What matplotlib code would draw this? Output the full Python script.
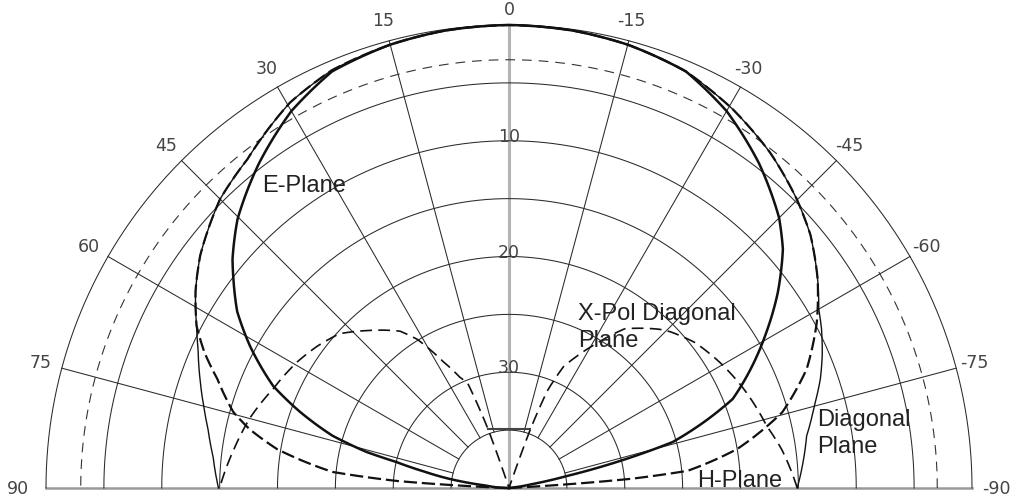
import numpy as np
import matplotlib
matplotlib.use("Agg")
import matplotlib.pyplot as plt
from matplotlib.transforms import offset_copy

plt.rcParams["lines.scale_dashes"] = False

# angles in degrees (positive = left of boresight), levels in dB below peak (40 = centre)
E_ANG = [-90, -84, -80.5, -78.3, -76, -74.3, -71, -68.3, -63, -58.8, -54, -48.9, -45, -37.6, -30, -23, -15, -8,
         0, 8, 15, 23, 30, 37.6, 45.3, 50.4, 53, 57, 61.3, 66.6, 70, 73.5, 75.8, 77, 79, 81.3, 84, 90]
E_DB = [40, 40, 38, 34.9, 29.4, 25.3, 21.9, 19.2, 16.3, 14.0, 11.3, 8.6, 7.0, 4.6, 2.4, 0.9, 0.35, 0.1,
        0, 0.1, 0.35, 0.9, 2.4, 4.6, 7.0, 9.0, 10.2, 12.0, 14.5, 17.8, 20.8, 24.1, 27.3, 30, 32.5, 34.8, 38, 40]

H_ANG = [-90, -87, -86.5, -85.7, -84.5, -80.3, -74.5, -68.2, -61.7, -55.9, -50, -45, -38, -30.6, -23, -15, -8,
         0, 8, 15, 23, 29.6, 38.5, 45, 53, 57.8, 62.6, 66, 69.5, 74.6, 77.2, 80.5, 84.8, 86.4, 87.2, 88, 90]
H_DB = [40, 40, 36, 29.5, 24.5, 20, 15.5, 12.3, 9.8, 7.8, 6.0, 4.8, 3.3, 2.0, 0.9, 0.35, 0.1,
        0, 0.1, 0.35, 0.8, 1.7, 3.7, 4.7, 6.6, 8.0, 9.6, 11.2, 13.1, 15.3, 17, 19.7, 24.7, 30.3, 36, 40, 40]

D_ANG = [-90, -85, -80.1, -75, -70.7, -67, -63, -60, -55.9, -50, -45, -38, -30.6, -23, -15, -8,
         0, 8, 15, 23, 29.6, 38.5, 45, 53, 57.8, 62.6, 66, 70.6, 75, 78.9, 84, 90]
D_DB = [15.1, 14.5, 13.9, 12.7, 11.5, 10.6, 9.7, 9.1, 7.8, 6.0, 4.8, 3.3, 2.0, 0.9, 0.35, 0.1,
        0, 0.1, 0.35, 0.8, 1.7, 3.7, 4.7, 6.6, 8.0, 9.6, 10.6, 11.7, 12.7, 13.5, 14.3, 14.9]

X_ANG = [-90, -82, -76.5, -67, -59.2, -52, -45.9, -43.5, -36, -31, -27, -24.2, -21.5, -20, -19,
         0, 18.5, 19.6, 21.5, 24, 27.5, 31.7, 34.8, 42, 47.7, 53.5, 59.3, 67.2, 75, 82, 90]
X_DB = [15.1, 16.2, 17.1, 18.0, 18.8, 19.6, 20.6, 21.1, 23.0, 25.5, 27.3, 28.5, 31, 34.6, 40,
        40, 40, 34.6, 30.3, 29.5, 27.7, 24.9, 23.5, 21.7, 20.2, 19.4, 18.7, 17.9, 16.8, 16.0, 15.0]

NULL_ANG = [19.5, -19.5]
NULL_DB = [34.6, 34.6]

REF_DB = 3  # half-power circle

RING_DB = [0, 5, 10, 15, 20, 25, 30, 35]
SPOKE_ANG = [-75, -60, -45, -30, -15, 15, 30, 45, 60, 75]
ANGLE_TICKS = [90, 75, 60, 45, 30, 15, 0, -15, -30, -45, -60, -75, -90]
RADIAL_TICKS = [10, 20, 30]

W, H = 1018, 502
CX, CY, R = 509, 489, 463   # pattern centre and outer radius, pixels from top-left

fig = plt.figure(figsize=(W / 100, H / 100), dpi=100)
# full polar axes; only its upper half lands inside the figure
ax = fig.add_axes([(CX - R) / W, (H - CY - R) / H, 2 * R / W, 2 * R / H], projection="polar")
ax.set_theta_zero_location("N")
ax.set_theta_direction(1)
ax.set_rlim(40, 0)
ax.axis("off")

rad = np.deg2rad
grid_c = "#2a2a2a"
ink = "#111111"

# grid rings and spokes
ring_t = np.linspace(-90, 90, 721)
for lvl in RING_DB:
    ax.plot(rad(ring_t), np.full_like(ring_t, lvl), color=grid_c, lw=0.75, clip_on=False, zorder=1)
for a in SPOKE_ANG:
    ax.plot(rad([a, a]), [RING_DB[-1], RING_DB[0]], color=grid_c, lw=0.75, clip_on=False, zorder=1)

# boresight and horizon axes
ax.plot(rad([0, 0]), [40, 0], color="#b4b4b4", lw=2.2, clip_on=False, zorder=0.5)
ax.plot(rad([90, -90]), [0, 0], color="#9a9a9a", lw=1.8, clip_on=False, zorder=0.5)

# -3 dB circle
ax.plot(rad(ring_t), np.full_like(ring_t, REF_DB), color="#333333", lw=0.8,
        ls=(0, (7, 5)), clip_on=False, zorder=2)

# patterns (drawn along arcs between samples, like the polar grid)
curves = [
    (E_ANG, E_DB, dict(lw=1.8, zorder=4)),
    (H_ANG, H_DB, dict(lw=1.6, ls=(0, (9.5, 3.5)), zorder=4)),
    (D_ANG, D_DB, dict(lw=1.0, zorder=3)),
    (X_ANG, X_DB, dict(lw=1.2, ls=(0, (8.5, 4.5)), zorder=3)),
]
for ang, db, style in curves:
    line, = ax.plot(rad(ang), db, color=ink, clip_on=False, **style)
    line.get_path()._interpolation_steps = 30
ax.plot(rad(NULL_ANG), NULL_DB, color="#444444", lw=1.5, clip_on=False, zorder=3)

# angle labels
tick_font = dict(family="DejaVu Sans", fontsize=12.5, color="#444444")
for a in ANGLE_TICKS:
    r = -2.4 if abs(a) == 90 else (-1.4 if a == 0 else -1.9)
    tr = ax.transData if a >= 0 else offset_copy(ax.transData, fig=fig, x=-3, units="dots")
    ax.text(rad(a), r, str(a), ha="center", va="center", transform=tr, **tick_font)
for v in RADIAL_TICKS:
    ax.text(0, v, str(v), ha="center", va="baseline", **tick_font)

# curve annotations
lab_font = dict(family="Liberation Sans", fontsize=17, color="#222222", va="baseline", ha="left")
def label(x, y, s):
    fig.text(x / W, 1 - y / H, s, **lab_font)

label(262, 192, "E-Plane")
label(578, 320, "X-Pol Diagonal")
label(578, 347, "Plane")
label(817, 426, "Diagonal")
label(817, 453, "Plane")
label(697, 487, "H-Plane")

fig.savefig("out.png", dpi=100, facecolor="white")
